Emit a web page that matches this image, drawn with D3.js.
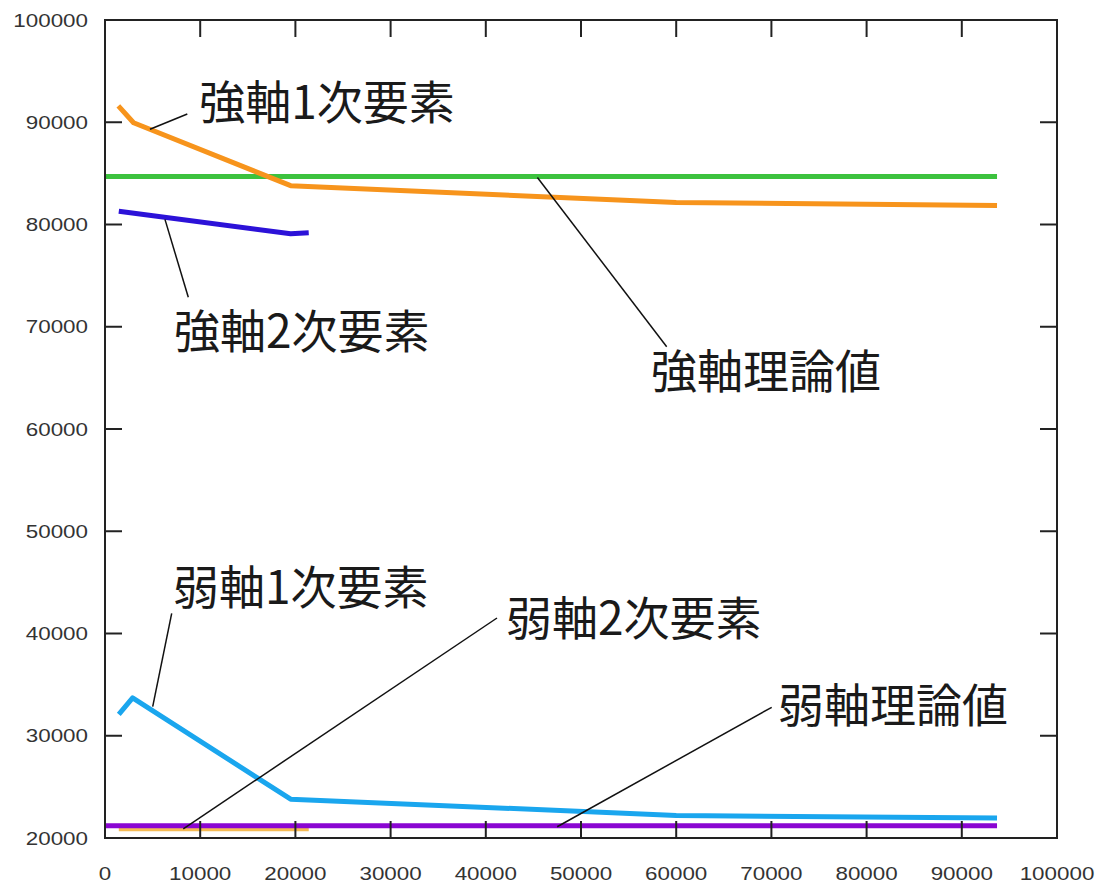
<!DOCTYPE html>
<html>
<head>
<meta charset="utf-8">
<script src="https://cdn.jsdelivr.net/npm/d3@7"></script>
<style>
  html, body { margin: 0; padding: 0; background: #fff; }
  svg { display: block; }
</style>
</head>
<body>
<svg id="chart" width="1099" height="886"></svg>
<script>
// Axis ticks
const xTicks = [0, 10000, 20000, 30000, 40000, 50000, 60000, 70000, 80000, 90000, 100000];
const yTicks = [20000, 30000, 40000, 50000, 60000, 70000, 80000, 90000, 100000];

// 強軸 1次要素
const strong1X = [1400, 3000, 19500, 60000, 93700];
const strong1Y = [91600, 89950, 83800, 82150, 81850];
// 強軸 2次要素
const strong2X = [1450, 19500, 21400];
const strong2Y = [81300, 79100, 79200];
// 強軸 理論値
const strongTheoryX = [0, 93700];
const strongTheoryY = [84700, 84700];
// 弱軸 1次要素
const weak1X = [1450, 2900, 19500, 60000, 93700];
const weak1Y = [32100, 33700, 23800, 22200, 21950];
// 弱軸 2次要素
const weak2X = [1450, 21400];
const weak2Y = [20900, 20900];
// 弱軸 理論値
const weakTheoryX = [0, 93700];
const weakTheoryY = [21200, 21200];

// Callout labels (text anchor and leader line, in data units)
const labelText = ["強軸1次要素", "強軸2次要素", "強軸理論値", "弱軸1次要素", "弱軸2次要素", "弱軸理論値"];
const labelX = [9900, 7250, 57350, 7150, 42120, 70690];
const labelY = [92300, 69900, 65970, 44840, 41810, 33300];
const leaderX1 = [4727, 6300, 45420, 5011, 8225, 47500];
const leaderY1 = [89310, 80500, 84600, 32840, 20900, 21100];
const leaderX2 = [8645, 8750, 59000, 7006, 41176, 70032];
const leaderY2 = [90807, 72880, 68050, 41976, 41516, 32782];

const svg = d3.select("#chart");
const plot = { left: 105, right: 1057, top: 20, bottom: 838 };

const x = d3.scaleLinear().domain([0, 100000]).range([plot.left, plot.right]);
const y = d3.scaleLinear().domain([20000, 100000]).range([plot.bottom, plot.top]);

const series = [
  { xs: weak2X, ys: weak2Y, color: "#f5bb55" },
  { xs: weakTheoryX, ys: weakTheoryY, color: "#8a06d2" },
  { xs: weak1X, ys: weak1Y, color: "#1aa6ee" },
  { xs: strongTheoryX, ys: strongTheoryY, color: "#3cc23e" },
  { xs: strong2X, ys: strong2Y, color: "#2c12d8" },
  { xs: strong1X, ys: strong1Y, color: "#f7941c" }
];

const line = d3.line().x(d => x(d[0])).y(d => y(d[1]));

svg.append("g").selectAll("path")
  .data(series)
  .join("path")
  .attr("d", s => line(s.xs.map((v, i) => [v, s.ys[i]])))
  .attr("fill", "none")
  .attr("stroke", s => s.color)
  .attr("stroke-width", 5)
  .attr("stroke-linejoin", "round");

// Frame and inward ticks
const axisColor = "#222";
const tickLen = 17;
const frame = svg.append("g");
frame.append("rect")
  .attr("x", plot.left).attr("y", plot.top)
  .attr("width", plot.right - plot.left).attr("height", plot.bottom - plot.top)
  .attr("fill", "none").attr("stroke", axisColor).attr("stroke-width", 2);

const innerX = xTicks.slice(1, -1);
const innerY = yTicks.slice(1, -1);
frame.selectAll(".xtb").data(innerX).join("line")
  .attr("x1", d => x(d)).attr("x2", d => x(d))
  .attr("y1", plot.bottom).attr("y2", plot.bottom - tickLen)
  .attr("stroke", axisColor).attr("stroke-width", 2);
frame.selectAll(".xtt").data(innerX).join("line")
  .attr("x1", d => x(d)).attr("x2", d => x(d))
  .attr("y1", plot.top).attr("y2", plot.top + tickLen)
  .attr("stroke", axisColor).attr("stroke-width", 2);
frame.selectAll(".ytl").data(innerY).join("line")
  .attr("x1", plot.left).attr("x2", plot.left + tickLen)
  .attr("y1", d => y(d)).attr("y2", d => y(d))
  .attr("stroke", axisColor).attr("stroke-width", 2);
frame.selectAll(".ytr").data(innerY).join("line")
  .attr("x1", plot.right).attr("x2", plot.right - tickLen)
  .attr("y1", d => y(d)).attr("y2", d => y(d))
  .attr("stroke", axisColor).attr("stroke-width", 2);

// Tick labels
const tickFont = "'Liberation Sans', Arial, sans-serif";
const digitW = 12.45;
svg.append("g").selectAll("text").data(yTicks).join("text")
  .attr("x", 88).attr("y", d => y(d))
  .attr("text-anchor", "end").attr("dominant-baseline", "central")
  .attr("font-family", tickFont).attr("font-size", 19).attr("fill", "#333")
  .attr("textLength", d => String(d).length * digitW)
  .attr("lengthAdjust", "spacingAndGlyphs")
  .text(d => d);
svg.append("g").selectAll("text").data(xTicks).join("text")
  .attr("x", d => x(d)).attr("y", 873)
  .attr("text-anchor", "middle").attr("dominant-baseline", "central")
  .attr("font-family", tickFont).attr("font-size", 19).attr("fill", "#333")
  .attr("textLength", d => String(d).length * digitW)
  .attr("lengthAdjust", "spacingAndGlyphs")
  .text(d => d);

// Callouts
const callouts = svg.append("g");
callouts.selectAll("line").data(labelText).join("line")
  .attr("x1", (d, i) => x(leaderX1[i])).attr("y1", (d, i) => y(leaderY1[i]))
  .attr("x2", (d, i) => x(leaderX2[i])).attr("y2", (d, i) => y(leaderY2[i]))
  .attr("stroke", "#111").attr("stroke-width", 1.5);
callouts.selectAll("text").data(labelText).join("text")
  .attr("x", (d, i) => x(labelX[i])).attr("y", (d, i) => y(labelY[i]))
  .attr("dominant-baseline", "central")
  .attr("font-family", "'Noto Sans CJK JP', 'Noto Sans CJK SC', sans-serif")
  .attr("font-size", 46).attr("fill", "#1a1a1a")
  .text(d => d);
</script>
</body>
</html>
